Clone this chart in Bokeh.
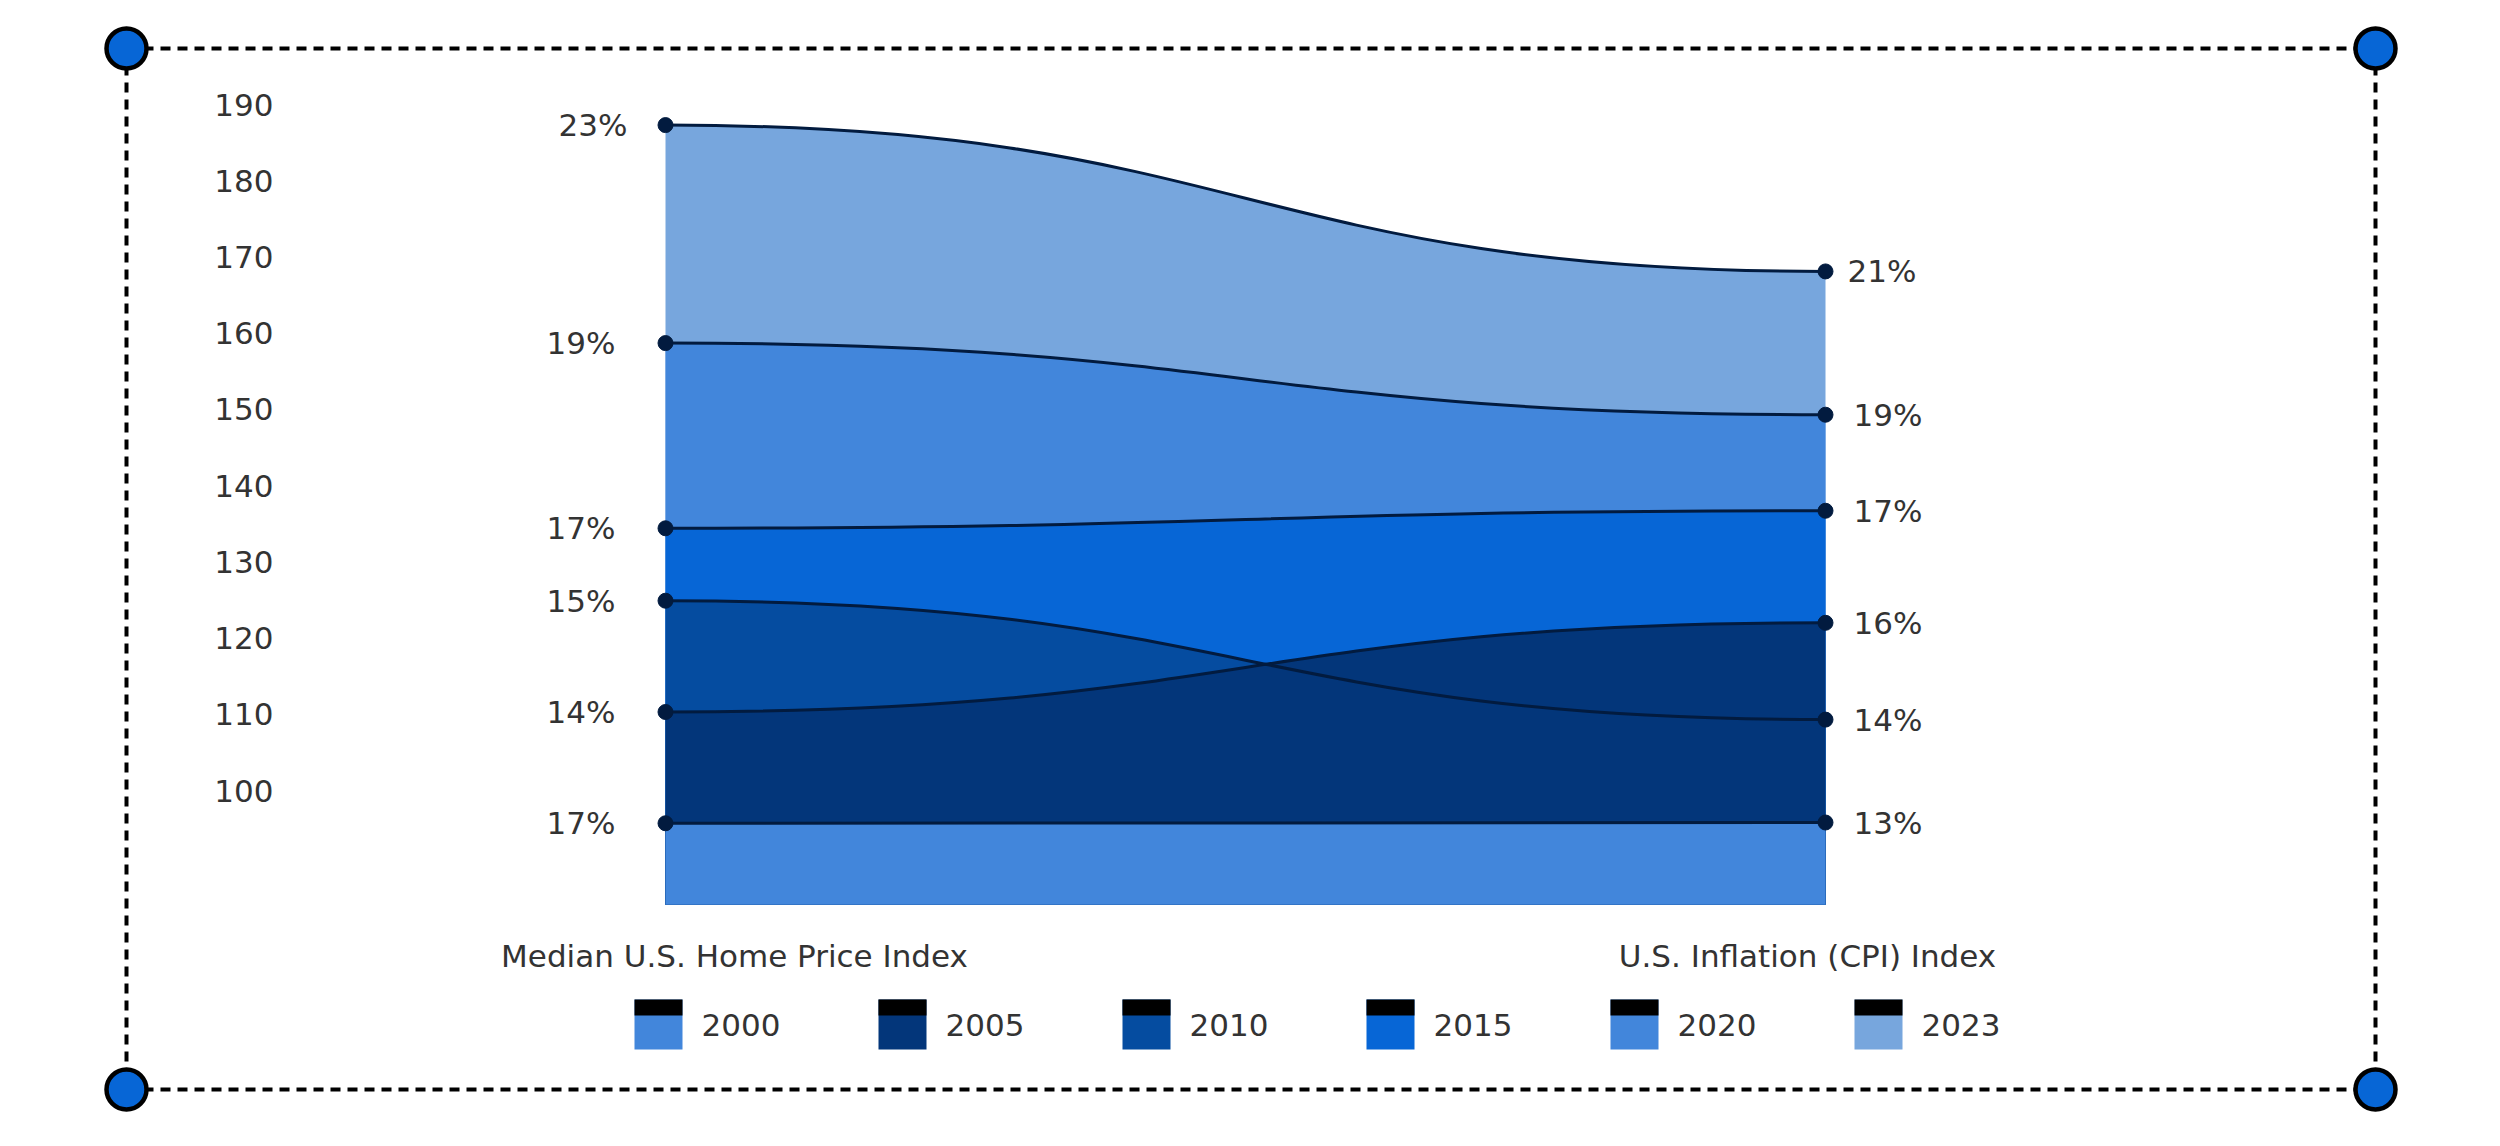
import numpy as np
from bokeh.plotting import figure
from bokeh.models import Range1d
from bokeh.core.properties import value
from bokeh.embed import file_html
from bokeh.resources import INLINE

# ---------------- data ----------------
years = ["2000", "2005", "2010", "2015", "2020", "2023"]
home_idx = [95.7, 110.3, 124.9, 134.4, 158.7, 187.3]   # Median U.S. Home Price Index
cpi_idx = [95.8, 122.0, 109.3, 136.7, 149.3, 168.1]    # U.S. Inflation (CPI) Index
home_pct = ["17%", "14%", "15%", "17%", "19%", "23%"]
cpi_pct = ["13%", "16%", "14%", "17%", "19%", "21%"]
colors = ["#4286DB", "#03367A", "#054CA0", "#0766D6", "#4286DB", "#77A6DD"]
categories = ["Median U.S. Home Price Index", "U.S. Inflation (CPI) Index"]
y_ticks = [100, 110, 120, 130, 140, 150, 160, 170, 180, 190]
baseline = 85.0

# ---------------- layout ----------------
W, H = 2484, 1130
FONT = value("DejaVu Sans")
FS = "31px"
TXT = "#333333"
LINE = "#021B3F"

# pixel positions inside the figure
x_left_px, x_right_px = 665, 1825
y190_px, y100_px = 104, 790
ppu_x = x_right_px - x_left_px
ppu_y = (y100_px - y190_px) / 90.0
xs = 0 - x_left_px / ppu_x
xe = 1 + (W - x_right_px) / ppu_x
ye = 190 + y190_px / ppu_y
ys = 100 - (H - y100_px) / ppu_y

p = figure(width=W, height=H, x_range=Range1d(xs, xe), y_range=Range1d(ys, ye),
           output_backend="svg", toolbar_location=None,
           x_axis_location=None, y_axis_location=None, min_border=0,
           outline_line_color=None, background_fill_color="white",
           border_fill_color="white")
p.xgrid.visible = False
p.ygrid.visible = False
p.extra_x_ranges = {"px": Range1d(0, W)}
p.extra_y_ranges = {"px": Range1d(H, 0)}

# bump curve (horizontal tangents at both ends)
s = np.linspace(0, 1, 200)
bx = 1.5 * s * (1 - s) + s ** 3
w0 = (1 - s) ** 3 + 3 * (1 - s) ** 2 * s
w1 = 3 * (1 - s) * s ** 2 + s ** 3

# areas from baseline to each series, top series first
for i in reversed(range(len(years))):
    by = home_idx[i] * w0 + cpi_idx[i] * w1
    p.varea(x=bx, y1=np.full_like(bx, baseline), y2=by, fill_color=colors[i])

for i in range(len(years)):
    p.bezier(x0=[0], y0=[home_idx[i]], x1=[1], y1=[cpi_idx[i]],
             cx0=[0.5], cy0=[home_idx[i]], cx1=[0.5], cy1=[cpi_idx[i]],
             line_color=LINE, line_width=3)

p.scatter(x=[0] * len(years), y=home_idx, size=15, fill_color=LINE, line_color=LINE)
p.scatter(x=[1] * len(years), y=cpi_idx, size=15, fill_color=LINE, line_color=LINE)

p.text(x=[0] * len(years), y=home_idx, text=home_pct,
       x_offset=[-50, -50, -50, -50, -50, -38],
       text_align="right", text_baseline="middle", text_font=FONT,
       text_font_size=FS, text_color=TXT)
p.text(x=[1] * len(years), y=cpi_idx, text=cpi_pct,
       x_offset=[28, 28, 28, 28, 28, 22],
       text_align="left", text_baseline="middle", text_font=FONT,
       text_font_size=FS, text_color=TXT)

# y tick labels
p.text(x=[xs] * len(y_ticks), y=y_ticks, text=[str(t) for t in y_ticks],
       x_offset=273, text_align="right", text_baseline="middle",
       text_font=FONT, text_font_size=FS, text_color=TXT)

# category labels
p.text(x=[0, 1], y=[baseline, baseline], text=categories, x_offset=[69, -18],
       y_offset=[51, 51], text_align="center", text_baseline="middle",
       text_font=FONT, text_font_size=FS, text_color=TXT)

# legend
leg_x0, leg_dx = 634, 244
for i, yr in enumerate(years):
    lx = leg_x0 + leg_dx * i
    p.quad(left=[lx], right=[lx + 48], top=[999], bottom=[1049],
           fill_color=colors[i], line_color=None,
           x_range_name="px", y_range_name="px")
    p.quad(left=[lx], right=[lx + 48], top=[999], bottom=[1015],
           fill_color="black", line_color=None,
           x_range_name="px", y_range_name="px")
    p.text(x=[lx + 67], y=[1024], text=[yr], text_align="left",
           text_baseline="middle", text_font=FONT, text_font_size=FS,
           text_color=TXT, x_range_name="px", y_range_name="px")

# dashed frame with corner handles
fx0, fx1, fy0, fy1 = 126, 2375, 48, 1089
p.segment(x0=[fx0, fx0, fx0, fx1], y0=[fy0, fy1, fy0, fy0],
          x1=[fx1, fx1, fx0, fx1], y1=[fy0, fy1, fy1, fy1],
          line_color="black", line_width=4, line_dash="10 7",
          x_range_name="px", y_range_name="px")
p.scatter(x=[fx0, fx1, fx0, fx1], y=[fy0, fy0, fy1, fy1], size=40,
          fill_color="#0766D6", line_color="black", line_width=4.5,
          x_range_name="px", y_range_name="px")

open("out.html", "w").write(file_html(p, INLINE))
